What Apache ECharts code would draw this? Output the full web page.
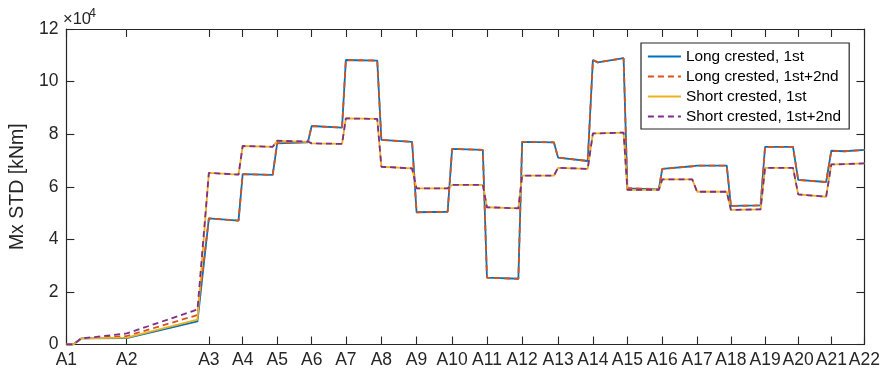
<!DOCTYPE html>
<html>
<head>
<meta charset="utf-8">
<script src="https://cdn.jsdelivr.net/npm/echarts@6/dist/echarts.min.js"></script>
<style>
  html, body { margin: 0; padding: 0; background: #fff; }
  #chart { width: 883px; height: 373px; }
</style>
</head>
<body>
<div id="chart"></div>
<script>
// Section names and their positions along the structure (distance units)
const stations = ['A1','A2','A3','A4','A5','A6','A7','A8','A9','A10','A11',
                  'A12','A13','A14','A15','A16','A17','A18','A19','A20','A21','A22'];
const stationPos = [0.00, 1.75, 4.13, 5.11, 6.11, 7.11, 8.10, 9.13, 10.15, 11.18, 12.19,
                    13.21, 14.25, 15.26, 16.26, 17.27, 18.28, 19.26, 20.25, 21.21, 22.17, 23.13];

// Evaluation points along the structure
const sampleX = [0.00, 0.20, 0.43, 1.75, 3.80, 4.13, 4.99, 5.11, 5.98, 6.11,
                 7.00, 7.11, 7.99, 8.10, 9.01, 9.13, 10.02, 10.15, 11.05, 11.18,
                 12.07, 12.19, 13.10, 13.21, 14.13, 14.25, 15.11, 15.26, 15.40, 16.15,
                 16.26, 17.17, 17.27, 18.14, 18.28, 19.14, 19.26, 20.12, 20.25, 21.06,
                 21.21, 22.02, 22.17, 22.55, 23.13];

// Mx standard deviation [kNm]
const longFirst = [0, 0, 2300, 2400, 8800, 48000, 47100, 64800, 64500, 76500,
                   76900, 83100, 82500, 108200, 108000, 77800, 77100, 50300, 50500, 74400,
                   74000, 25400, 25000, 77100, 76900, 71100, 69800, 108200, 107300, 108900,
                   59400, 59000, 66800, 67800, 68000, 68000, 52700, 52900, 75200, 75200,
                   62600, 61800, 73700, 73500, 74000];
const longBoth = [0, 0, 2300, 3200, 11200, 48000, 47100, 64800, 64500, 76700,
                  77000, 83100, 82500, 108200, 108000, 77800, 77100, 50300, 50500, 74400,
                  74000, 25400, 25000, 77100, 76900, 71100, 69800, 108200, 107300, 108900,
                  59500, 59100, 66800, 67800, 68000, 68000, 52700, 52900, 75200, 75200,
                  62600, 61800, 73700, 73500, 74000];
const shortFirst = [0, 0, 2300, 2600, 9500, 65300, 64600, 75500, 75200, 77400,
                    77100, 76500, 76300, 86000, 85800, 67600, 67000, 59400, 59400, 60700,
                    60700, 52200, 51800, 64200, 64200, 67200, 66800, 80300, 80300, 80600,
                    58800, 58800, 62800, 62800, 58100, 58100, 51200, 51400, 67200, 67200,
                    57100, 56200, 68500, 68600, 68900];
const shortBoth = [0, 0, 2300, 4200, 13300, 65300, 64600, 75500, 75200, 77500,
                   77200, 76500, 76300, 86000, 85800, 67600, 67000, 59400, 59400, 60700,
                   60700, 52200, 51800, 64200, 64200, 67200, 66800, 80300, 80300, 80600,
                   58800, 58800, 62800, 62800, 58100, 58100, 51200, 51400, 67200, 67200,
                   57100, 56200, 68500, 68600, 68900];

const seriesNames = ['Long crested, 1st', 'Long crested, 1st+2nd',
                     'Short crested, 1st', 'Short crested, 1st+2nd'];
const seriesColors = ['#0072BD', '#D95319', '#EDB120', '#7E2F8E'];
const seriesDashed = [false, true, false, true];
const seriesValues = [longFirst, longBoth, shortFirst, shortBoth];

const FONT = '"Liberation Sans", Arial, Helvetica, sans-serif';
const INK = '#262626';

function pairs(values) {
  return sampleX.map((x, i) => [x, values[i]]);
}

function stationLabel(v) {
  let best = 0;
  for (let i = 1; i < stationPos.length; i++) {
    if (Math.abs(stationPos[i] - v) < Math.abs(stationPos[best] - v)) best = i;
  }
  return stations[best];
}

const xMax = stationPos[stationPos.length - 1];
const axisLine = { show: true, onZero: false, lineStyle: { color: INK, width: 1.2 } };
const tickStyle = { color: INK, width: 1.1 };

const chart = echarts.init(document.getElementById('chart'), null, { renderer: 'canvas' });

chart.setOption({
  animation: false,
  backgroundColor: '#fff',
  grid: { left: 62, right: 18, top: 29, bottom: 28.5, containLabel: false },
  xAxis: [
    {
      type: 'value', min: 0, max: xMax, position: 'bottom',
      axisLine: axisLine,
      axisTick: { show: true, inside: true, length: 8, customValues: stationPos,
                  lineStyle: tickStyle },
      axisLabel: { customValues: stationPos, formatter: stationLabel,
                   fontSize: 17.5, color: INK, fontFamily: FONT, margin: 7 },
      splitLine: { show: false }
    },
    {
      type: 'value', min: 0, max: xMax, position: 'top',
      axisLine: axisLine,
      axisTick: { show: true, inside: true, length: 8, customValues: stationPos,
                  lineStyle: tickStyle },
      axisLabel: { show: false },
      splitLine: { show: false }
    }
  ],
  yAxis: [
    {
      type: 'value', min: 0, max: 120000, interval: 20000, position: 'left',
      name: 'Mx STD [kNm]', nameLocation: 'middle', nameGap: 36, nameRotate: 90,
      nameTextStyle: { fontSize: 19.5, color: INK, fontFamily: FONT },
      axisLine: axisLine,
      axisTick: { show: true, inside: true, length: 8, lineStyle: tickStyle },
      axisLabel: { formatter: v => String(v / 10000), fontSize: 17.5, color: INK,
                   fontFamily: FONT, margin: 8 },
      splitLine: { show: false }
    },
    {
      type: 'value', min: 0, max: 120000, interval: 20000, position: 'right',
      axisLine: axisLine,
      axisTick: { show: true, inside: true, length: 8, lineStyle: tickStyle },
      axisLabel: { show: false },
      splitLine: { show: false }
    }
  ],
  legend: {
    orient: 'vertical',
    left: 641, top: 43,
    data: seriesNames,
    itemWidth: 33, itemHeight: 14, itemGap: 5,
    padding: [6, 8, 5, 6],
    borderColor: INK, borderWidth: 1.2, backgroundColor: '#fff',
    itemStyle: { opacity: 0, borderWidth: 0 },
    lineStyle: { width: 1.8 },
    textStyle: { fontSize: 15.4, color: '#000', fontFamily: FONT }
  },
  graphic: [
    { type: 'text', left: 63, top: 11,
      style: { text: '×10', fontSize: 16.5, fill: INK, fontFamily: FONT } },
    { type: 'text', left: 89, top: 7,
      style: { text: '4', fontSize: 12.5, fill: INK, fontFamily: FONT } }
  ],
  series: seriesNames.map((name, i) => ({
    name: name,
    type: 'line',
    xAxisIndex: 0, yAxisIndex: 0,
    data: pairs(seriesValues[i]),
    symbol: 'none', showSymbol: false,
    lineStyle: { color: seriesColors[i], width: 1.8,
                 type: seriesDashed[i] ? [6, 4] : 'solid' },
    itemStyle: { color: seriesColors[i] },
    z: 2 + i
  }))
});
</script>
</body>
</html>
